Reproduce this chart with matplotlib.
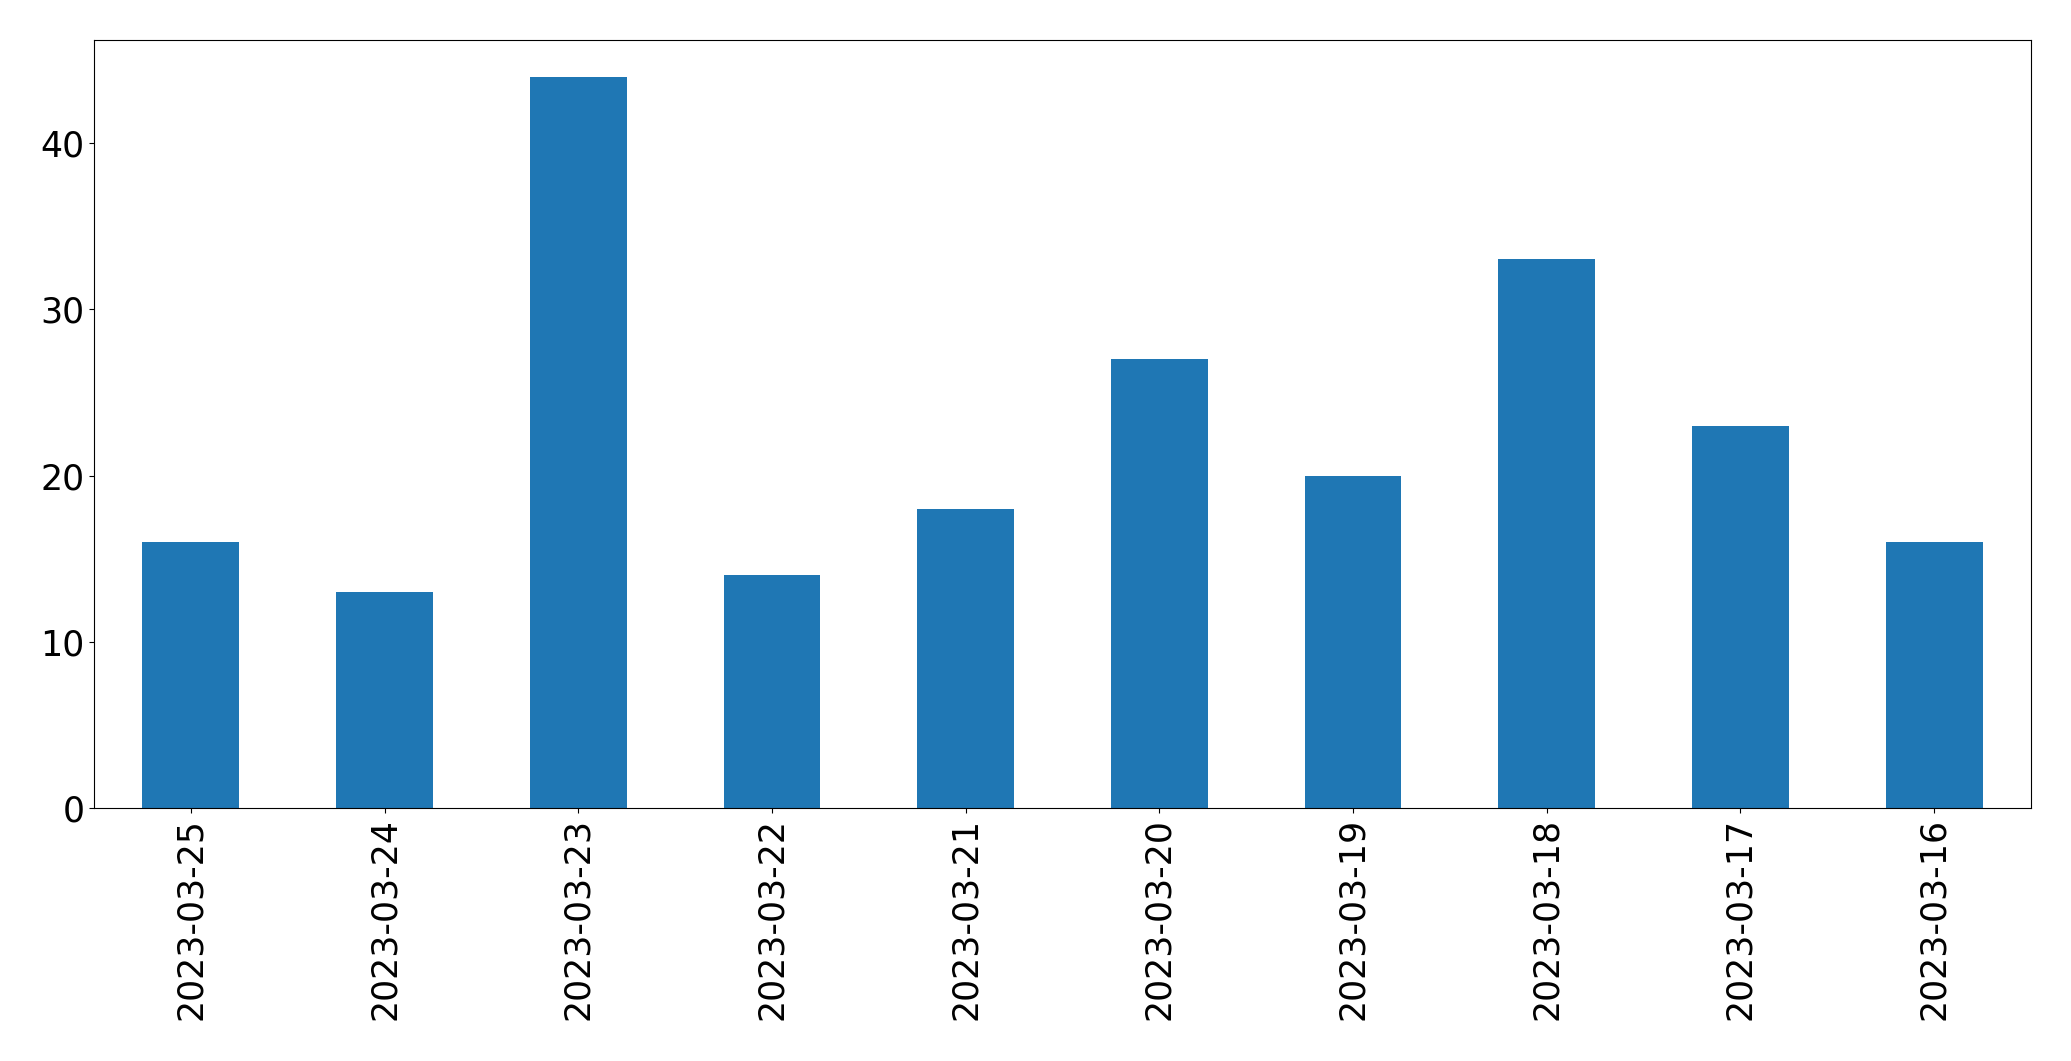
import matplotlib
matplotlib.use("Agg")
import matplotlib.pyplot as plt
import pandas as pd

dates = ["2023-03-25", "2023-03-24", "2023-03-23", "2023-03-22", "2023-03-21",
         "2023-03-20", "2023-03-19", "2023-03-18", "2023-03-17", "2023-03-16"]
counts = [16, 13, 44, 14, 18, 27, 20, 33, 23, 16]

s = pd.Series(counts, index=dates)

fig = plt.figure(figsize=(20.71, 10.61), dpi=100)
ax = fig.add_axes([94 / 2071, 1 - 808 / 1061, (2031 - 94) / 2071, (808 - 40) / 1061])
s.plot(kind="bar", ax=ax, color="#1f77b4")
ax.tick_params(axis="both", labelsize=25)
ax.set_xticklabels(dates, rotation=90)

fig.savefig("out.png", dpi=100)
